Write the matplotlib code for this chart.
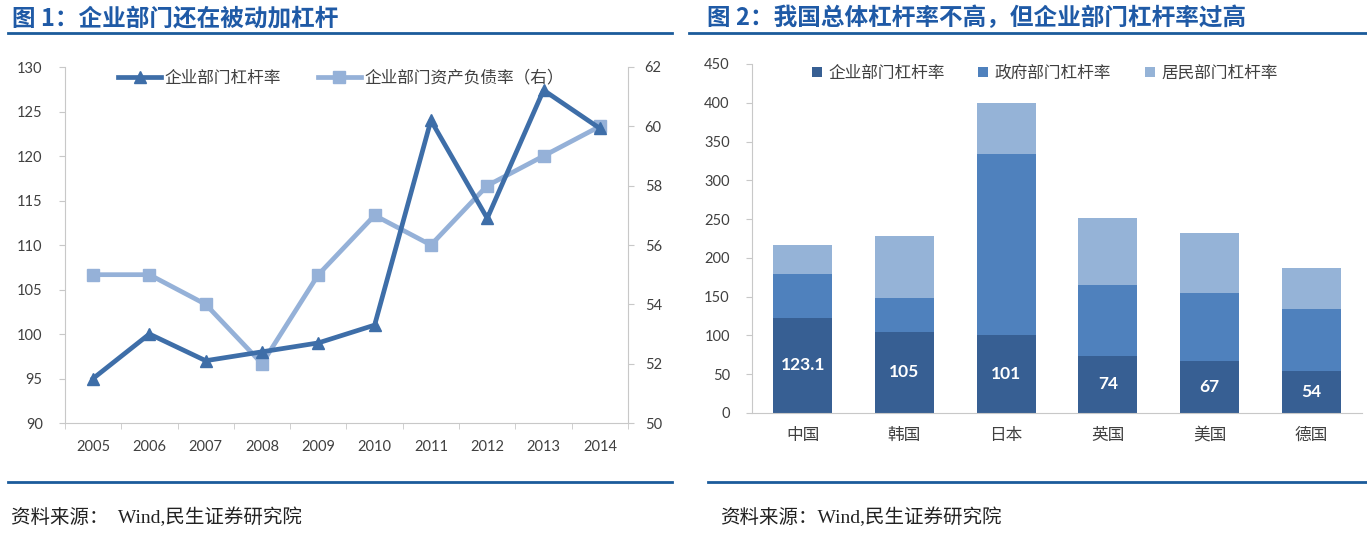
import matplotlib.pyplot as plt
from matplotlib.lines import Line2D
from matplotlib.ticker import MultipleLocator, FixedLocator
import numpy as np

# 图1 数据
years = ['2005', '2006', '2007', '2008', '2009', '2010', '2011', '2012', '2013', '2014']
corp_leverage = [95, 100, 97, 98, 99, 101, 124, 113, 127.4, 123.1]
corp_debt_ratio = [55, 55, 54, 52, 55, 57, 56, 58, 59, 60]

# 图2 数据
countries = ['中国', '韩国', '日本', '英国', '美国', '德国']
corp_sector = [123.1, 105, 101, 74, 67, 54]
gov_sector = [56, 43, 233, 91, 88, 80]
household_sector = [38, 80, 66, 86, 77, 53]

CJK = ['Noto Sans CJK SC', 'DejaVu Sans']
SERIF_CJK = ['Liberation Serif', 'Noto Sans CJK SC']
NUM = ['Lato', 'DejaVu Sans']

dark_line = '#3E6EA8'
light_line = '#95B1D8'
c_corp = '#375F93'
c_gov = '#4F81BD'
c_house = '#95B3D7'
title_blue = '#1F5AA6'
rule_blue = '#1B5B9B'
spine_gray = '#C8C8C8'
tick_gray = '#404040'

fig = plt.figure(figsize=(13.67, 5.36), dpi=100)

# ---------- 标题、分隔线、来源 ----------
fig.text(0.009, 0.966, '图 1：企业部门还在被动加杠杆', family=CJK, fontweight='bold',
         fontsize=17, color=title_blue, va='center')
fig.text(0.517, 0.966, '图 2：我国总体杠杆率不高，但企业部门杠杆率过高', family=CJK, fontweight='bold',
         fontsize=17, color=title_blue, va='center')
for x0, x1, y in [(0.006, 0.4916, 0.9384), (0.504, 1.0, 0.9384),
                  (0.006, 0.4916, 0.1007), (0.518, 1.0, 0.1007)]:
    fig.add_artist(Line2D([x0, x1], [y, y], transform=fig.transFigure,
                          color=rule_blue, linewidth=2))
fig.text(0.008, 0.034, '资料来源：  Wind,民生证券研究院', family=SERIF_CJK,
         fontsize=14, color='#222222', va='center')
fig.text(0.527, 0.034, '资料来源：Wind,民生证券研究院', family=SERIF_CJK,
         fontsize=14, color='#222222', va='center')

# ---------- 图1：折线 ----------
ax1 = fig.add_axes([0.0475, 0.2108, 0.4119, 0.6642])
ax2 = ax1.twinx()
x = np.arange(len(years))
l1, = ax1.plot(x, corp_leverage, color=dark_line, linewidth=3.4, marker='^',
               markersize=8.5, label='企业部门杠杆率', zorder=3)
l2, = ax2.plot(x, corp_debt_ratio, color=light_line, linewidth=3.4, marker='s',
               markersize=8.5, label='企业部门资产负债率（右）', zorder=2)
ax1.set_zorder(ax2.get_zorder() + 1)
ax1.patch.set_visible(False)

ax1.set_xlim(-0.5, len(years) - 0.5)
ax1.set_ylim(90, 130)
ax2.set_ylim(50, 62)
ax1.yaxis.set_major_locator(MultipleLocator(5))
ax2.yaxis.set_major_locator(MultipleLocator(2))
ax1.set_xticks(x)
ax1.set_xticklabels(years)
ax1.xaxis.set_minor_locator(FixedLocator(np.arange(-0.5, len(years), 1.0)))
ax1.tick_params(axis='x', which='major', length=0, pad=12)
ax1.tick_params(axis='x', which='minor', length=4, color=spine_gray)
for a in (ax1, ax2):
    a.tick_params(axis='y', length=4, color=spine_gray, labelcolor=tick_gray, labelsize=10.5)
    for s in a.spines.values():
        s.set_color(spine_gray)
    a.spines['top'].set_visible(False)
ax1.spines['right'].set_visible(False)
ax2.spines['left'].set_visible(False)
ax2.spines['bottom'].set_visible(False)
ax1.tick_params(axis='x', labelcolor=tick_gray, labelsize=10.5)
ax1.tick_params(axis='y', pad=12)
ax2.tick_params(axis='y', pad=8)
for lab in ax1.get_xticklabels() + ax1.get_yticklabels() + ax2.get_yticklabels():
    lab.set_family(NUM)

leg1 = ax1.legend(handles=[l1, l2], loc='upper center', bbox_to_anchor=(0.49, 1.035),
                  ncol=2, frameon=False, prop={'family': CJK, 'size': 12},
                  handlelength=2.6, columnspacing=2.2, handletextpad=0.2)
for t in leg1.get_texts():
    t.set_color(tick_gray)

# ---------- 图2：堆积柱 ----------
ax3 = fig.add_axes([0.5501, 0.2295, 0.4462, 0.6511])
xb = np.arange(len(countries))
corp_arr = np.array(corp_sector)
gov_arr = np.array(gov_sector)
house_arr = np.array(household_sector)
w = 0.58
b1 = ax3.bar(xb, corp_arr, width=w, color=c_corp, label='企业部门杠杆率')
b2 = ax3.bar(xb, gov_arr, width=w, bottom=corp_arr, color=c_gov, label='政府部门杠杆率')
b3 = ax3.bar(xb, house_arr, width=w, bottom=corp_arr + gov_arr, color=c_house, label='居民部门杠杆率')
ax3.bar_label(b1, labels=[f'{v:g}' for v in corp_sector], label_type='center',
              color='white', fontweight='bold', fontsize=12.5, family=NUM)

ax3.set_xlim(-0.5, len(countries) - 0.5)
ax3.set_ylim(0, 450)
ax3.yaxis.set_major_locator(MultipleLocator(50))
ax3.set_xticks(xb)
ax3.set_xticklabels(countries, family=CJK, fontsize=12, color=tick_gray)
ax3.tick_params(axis='x', length=0, pad=10)
ax3.tick_params(axis='y', length=4, color=spine_gray, labelcolor=tick_gray, labelsize=10.5, pad=12)
for lab in ax3.get_yticklabels():
    lab.set_family(NUM)
for s in ('top', 'right'):
    ax3.spines[s].set_visible(False)
for s in ('left', 'bottom'):
    ax3.spines[s].set_color(spine_gray)

leg2 = ax3.legend(loc='upper center', bbox_to_anchor=(0.48, 1.04), ncol=3, frameon=False,
                  prop={'family': CJK, 'size': 12}, handlelength=0.6, handleheight=0.6,
                  columnspacing=2.0, handletextpad=0.4)
for t in leg2.get_texts():
    t.set_color(tick_gray)

fig.savefig('out.png', dpi=100)
